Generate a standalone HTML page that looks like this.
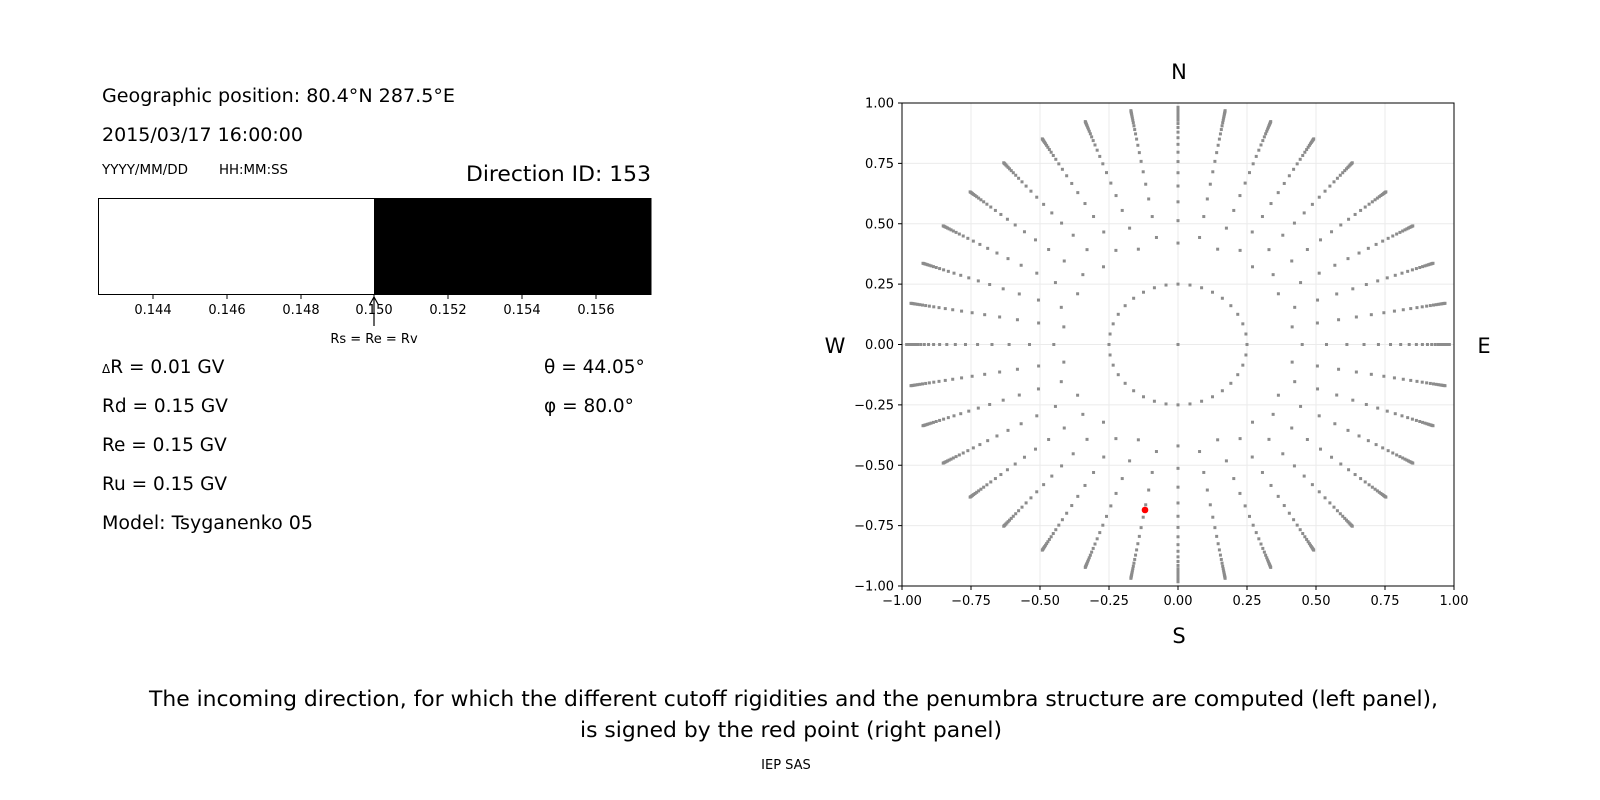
<!DOCTYPE html>
<html><head><meta charset="utf-8"><style>
html,body{margin:0;padding:0;background:#fff;}
svg{display:block;font-family:"DejaVu Sans","Liberation Sans",sans-serif;}
</style></head><body>
<svg id="s" width="1600" height="800" viewBox="0 0 1600 800" xmlns="http://www.w3.org/2000/svg">
<rect width="1600" height="800" fill="#fff"/>
<text x="102" y="102" font-size="18.5" textLength="353" lengthAdjust="spacingAndGlyphs">Geographic position: 80.4°N 287.5°E</text>
<text x="102" y="141" font-size="18.5" textLength="201" lengthAdjust="spacingAndGlyphs">2015/03/17 16:00:00</text>
<text x="102" y="174" font-size="13" textLength="86" lengthAdjust="spacingAndGlyphs">YYYY/MM/DD</text>
<text x="219" y="174" font-size="13" textLength="69" lengthAdjust="spacingAndGlyphs">HH:MM:SS</text>
<text x="466" y="181" font-size="21" textLength="185" lengthAdjust="spacingAndGlyphs">Direction ID: 153</text>
<rect x="98.5" y="198.5" width="276" height="96" fill="#fff" stroke="#000"/>
<rect x="374" y="198" width="277.5" height="97" fill="#000"/>
<g font-size="13" text-anchor="middle">
<line x1="153" y1="295" x2="153" y2="299" stroke="#000"/><text x="153" y="314">0.144</text>
<line x1="227" y1="295" x2="227" y2="299" stroke="#000"/><text x="227" y="314">0.146</text>
<line x1="301" y1="295" x2="301" y2="299" stroke="#000"/><text x="301" y="314">0.148</text>
<line x1="374" y1="295" x2="374" y2="299" stroke="#000"/><text x="374" y="314">0.150</text>
<line x1="448" y1="295" x2="448" y2="299" stroke="#000"/><text x="448" y="314">0.152</text>
<line x1="522" y1="295" x2="522" y2="299" stroke="#000"/><text x="522" y="314">0.154</text>
<line x1="596" y1="295" x2="596" y2="299" stroke="#000"/><text x="596" y="314">0.156</text>
<text x="374" y="343">Rs = Re = Rv</text>
</g>
<line x1="374" y1="297" x2="374" y2="326" stroke="#000" stroke-width="1.2"/>
<path d="M369.5,305 L374,297 L378.5,305" fill="none" stroke="#000" stroke-width="1.2"/>
<g font-size="18.5">
<text x="102" y="373"><tspan font-size="12">Δ</tspan>R = 0.01 GV</text>
<text x="102" y="412">Rd = 0.15 GV</text>
<text x="102" y="451">Re = 0.15 GV</text>
<text x="102" y="490">Ru = 0.15 GV</text>
<text x="102" y="529" textLength="211" lengthAdjust="spacingAndGlyphs">Model: Tsyganenko 05</text>
<text x="544" y="373">θ = 44.05°</text>
<text x="544" y="412">φ = 80.0°</text>
</g>
<g id="grid" stroke="#ebebeb" stroke-width="1"></g>
<g id="dots" fill="#8c8c8c"></g>
<circle cx="1145" cy="510" r="3.3" fill="#ff0000"/>
<rect x="902" y="103" width="552" height="483" fill="none" stroke="#000" stroke-width="1"/>
<g id="ticks" font-size="13"></g>
<g font-size="21" text-anchor="middle">
<text x="1179" y="79">N</text>
<text x="1179" y="643">S</text>
<text x="835" y="353">W</text>
<text x="1484" y="353">E</text>
</g>
<g font-size="21">
<text x="149" y="706" textLength="1289" lengthAdjust="spacingAndGlyphs">The incoming direction, for which the different cutoff rigidities and the penumbra structure are computed (left panel),</text>
<text x="580" y="737" textLength="422" lengthAdjust="spacingAndGlyphs">is signed by the red point (right panel)</text>
</g>
<text x="786" y="769" font-size="13" text-anchor="middle">IEP SAS</text>
</svg>
<script>
var NS="http://www.w3.org/2000/svg";
function X(v){return 902+(v+1)*276;}
function Y(v){return 344.5-v*241.5;}
function el(p,t,a,txt){var e=document.createElementNS(NS,t);for(var k in a)e.setAttribute(k,a[k]);if(txt)e.textContent=txt;document.getElementById(p).appendChild(e);}
var vals=[-1,-0.75,-0.5,-0.25,0,0.25,0.5,0.75,1];
vals.forEach(function(v){
 var lab=v.toFixed(2).replace("-","−");
 el("grid","line",{x1:X(v),y1:103,x2:X(v),y2:586});
 el("grid","line",{x1:902,y1:Y(v),x2:1454,y2:Y(v)});
 el("ticks","line",{x1:X(v),y1:586,x2:X(v),y2:590,stroke:"#000"});
 el("ticks","line",{x1:898,y1:Y(v),x2:902,y2:Y(v),stroke:"#000"});
 el("ticks","text",{x:X(v),y:605,"text-anchor":"middle"},lab);
 el("ticks","text",{x:894,y:Y(v)+4.5,"text-anchor":"end"},lab);
});
function dot(x,y){el("dots","rect",{x:X(x)-1.5,y:Y(y)-1.5,width:3,height:3});}
dot(0,0);
for(var i=0;i<36;i++){var a=i*10*Math.PI/180;dot(0.25*Math.sin(a),0.25*Math.cos(a));}
for(var i=0;i<36;i++){
 var a=i*10*Math.PI/180;
 var off=(i%2)?0.06:0;
 for(var k=0;k<24;k++){
  var r=1-(0.58-off*0.5)*Math.pow(0.84,k);
  if(r>0.985)break;
  dot(r*Math.sin(a),r*Math.cos(a));
 }
}
</script>
</body></html>
